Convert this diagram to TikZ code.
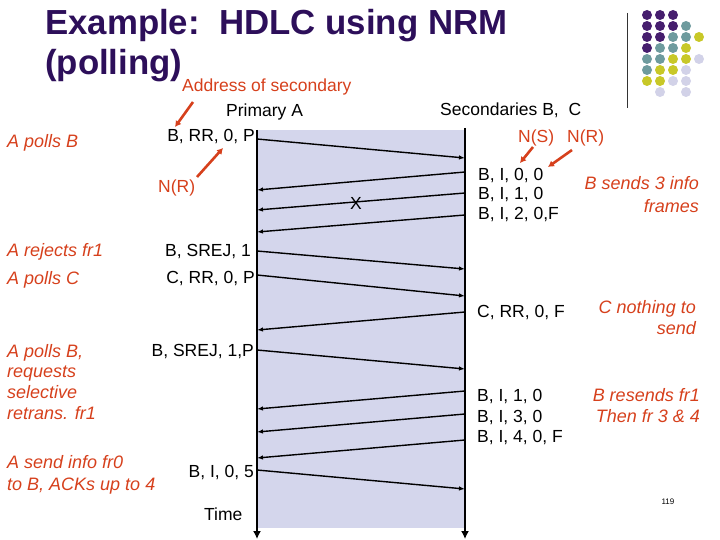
\documentclass[tikz,border=0pt]{standalone}
\usepackage{fontspec}
\setmainfont{Liberation Sans}
\usetikzlibrary{arrows.meta}
\definecolor{titlepurple}{RGB}{45,15,90}
\definecolor{annot}{RGB}{214,64,28}
\definecolor{shadecol}{RGB}{212,214,236}
\definecolor{dotP}{RGB}{70,30,110}
\definecolor{dotT}{RGB}{110,155,158}
\definecolor{dotY}{RGB}{200,200,40}
\definecolor{dotL}{RGB}{210,210,232}
\begin{document}
\begin{tikzpicture}[x=1pt,y=-1pt,
  lbl/.style={inner sep=0pt, font=\fontsize{17.5}{21}\selectfont},
  note/.style={inner sep=0pt, text=annot, font=\fontsize{18}{21}\selectfont\itshape},
  ttl/.style={inner sep=0pt, text=titlepurple, font=\fontsize{34.8}{40}\selectfont\bfseries},
  msg/.style={line width=1.4pt, -{Latex[length=6pt,width=4.5pt]}},
  tline/.style={line width=1.4pt, -{Latex[length=8pt,width=8pt]}},
  ptr/.style={line width=2.6pt, draw=annot, -{Latex[length=6pt,width=7pt]}}]
\useasboundingbox (0,0) rectangle (720,540);
% shaded region
\fill[shadecol] (257,130) rectangle (465,528);
% timelines
\coordinate (ltop) at (257,130);
\coordinate (lbot) at (257,539);
\coordinate (rtop) at (465,128);
\coordinate (rbot) at (465,539);
\draw[tline] (ltop) -- (lbot);
\draw[tline] (rtop) -- (rbot);
% title
\node[ttl, anchor=base west] (t1) at (45,35) {Example:\ \ HDLC using NRM};
\node[ttl, anchor=base west] (t2) at (45,75) {(polling)};
% dot decoration
\draw[line width=1pt, black!80] (627,13) -- (627,108);
\foreach \c/\x/\y in {dotP/647/15, dotP/660/15, dotP/673/15,
  dotP/647/26, dotP/660/26, dotP/673/26, dotT/686/26,
  dotP/647/37, dotP/660/37, dotT/673/37, dotT/686/37, dotY/699/37,
  dotP/647/48, dotT/660/48, dotT/673/48, dotY/686/48,
  dotT/647/59, dotT/660/59, dotY/673/59, dotY/686/59, dotL/699/59,
  dotT/647/70, dotY/660/70, dotY/673/70, dotL/686/70,
  dotY/647/81, dotY/660/81, dotL/673/81, dotL/686/81,
  dotL/660/92, dotL/686/92}
  \fill[\c] (\x,\y) circle (5pt);
% headers
\node[note, anchor=base west, font=\fontsize{17.5}{21}\selectfont] (addr) at (182,92) {Address of secondary};
\node[lbl, anchor=base west] (prim) at (226,117) {Primary A};
\node[lbl, anchor=base west] (secs) at (440,116) {Secondaries B,\ \ C};
\node[note, anchor=base west, font=\fontsize{17.5}{21}\selectfont] (ns) at (518,143) {N(S)};
\node[note, anchor=base west, font=\fontsize{17.5}{21}\selectfont] (nr2) at (567,143) {N(R)};
\node[note, anchor=base west, font=\fontsize{17.5}{21}\selectfont] (nr1) at (158,193) {N(R)};
% message coordinates
\coordinate (m1s) at (257,139); \coordinate (m1e) at (465,158);
\coordinate (m2s) at (465,172); \coordinate (m2e) at (257,190);
\coordinate (m3s) at (465,193); \coordinate (m3e) at (257,210);
\coordinate (m4s) at (465,215); \coordinate (m4e) at (257,232);
\coordinate (m5s) at (257,251); \coordinate (m5e) at (465,269);
\coordinate (m6s) at (257,275); \coordinate (m6e) at (465,296);
\coordinate (m7s) at (465,312); \coordinate (m7e) at (257,330);
\coordinate (m8s) at (257,350); \coordinate (m8e) at (465,369);
\coordinate (m9s) at (465,391); \coordinate (m9e) at (257,409);
\coordinate (m10s) at (465,414); \coordinate (m10e) at (257,432);
\coordinate (m11s) at (465,440); \coordinate (m11e) at (257,458);
\coordinate (m12s) at (257,470); \coordinate (m12e) at (465,489);
\foreach \i in {1,...,12} \draw[msg] (m\i s) -- (m\i e);
\node[lbl] (xmark) at (356,203) {X};
% left message labels
\node[lbl, anchor=base east] (l1) at (255,142) {B, RR, 0, P};
\node[lbl, anchor=base east] (l5) at (251,256) {B, SREJ, 1};
\node[lbl, anchor=base east] (l6) at (255,283) {C, RR, 0, P};
\node[lbl, anchor=base east] (l8) at (254,356) {B, SREJ, 1,P};
\node[lbl, anchor=base east] (l12) at (254,477) {B, I, 0, 5};
\node[lbl, anchor=base west] (time) at (204,520) {Time};
% right message labels
\node[lbl, anchor=base west] (r2) at (478,181) {B, I, 0, 0};
\node[lbl, anchor=base west] (r3) at (478,200) {B, I, 1, 0};
\node[lbl, anchor=base west] (r4) at (478,219) {B, I, 2, 0,F};
\node[lbl, anchor=base west] (r7) at (477,317) {C, RR, 0, F};
\node[lbl, anchor=base west] (r9) at (477,401) {B, I, 1, 0};
\node[lbl, anchor=base west] (r10) at (477,422) {B, I, 3, 0};
\node[lbl, anchor=base west] (r11) at (477,442) {B, I, 4, 0, F};
% left annotations
\node[note, anchor=base west] (a1) at (7,148) {A polls B};
\node[note, anchor=base west] (a2) at (7,256) {A rejects fr1};
\node[note, anchor=base west] (a3) at (7,284) {A polls C};
\node[note, anchor=base west] (a4) at (7,357) {A polls B,};
\node[note, anchor=base west] (a5) at (7,377) {requests};
\node[note, anchor=base west] (a6) at (7,398) {selective};
\node[note, anchor=base west] (a7) at (7,419) {retrans. fr1};
\node[note, anchor=base west] (a8) at (7,468) {A send info fr0};
\node[note, anchor=base west] (a9) at (7,490) {to B, ACKs up to 4};
% right annotations
\node[note, anchor=base east] (b1) at (699,190) {B sends 3 info};
\node[note, anchor=base east] (b2) at (699,212) {frames};
\node[note, anchor=base east] (c1) at (696,313) {C nothing to};
\node[note, anchor=base east] (c2) at (696,334) {send};
\node[note, anchor=base east] (d1) at (700,401) {B resends fr1};
\node[note, anchor=base east] (d2) at (700,422) {Then fr 3 \& 4};
% page number
\node[inner sep=0pt, font=\fontsize{8}{9}\selectfont] (pg) at (668,502) {119};
% pointer arrows
\coordinate (p1s) at (193,102); \coordinate (p1e) at (175,127);
\coordinate (p2s) at (197,177); \coordinate (p2e) at (223,148);
\coordinate (p3s) at (533,147); \coordinate (p3e) at (520,163);
\coordinate (p4s) at (572,150); \coordinate (p4e) at (548,167);
\draw[ptr] (p1s) -- (p1e);
\draw[ptr] (p2s) -- (p2e);
\draw[ptr] (p3s) -- (p3e);
\draw[ptr] (p4s) -- (p4e);
\end{tikzpicture}
\end{document}
